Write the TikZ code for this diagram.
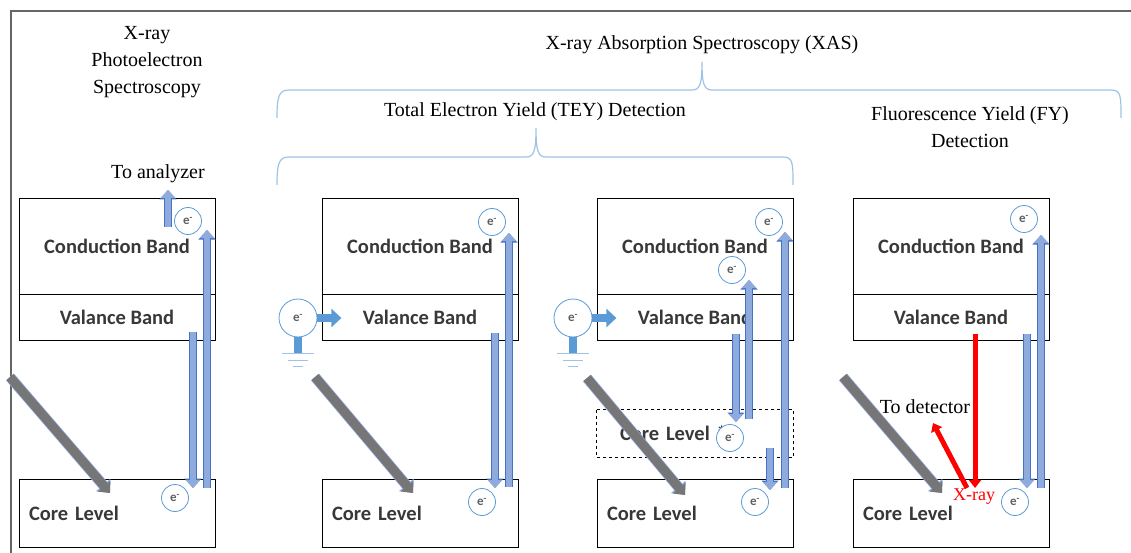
\documentclass[tikz,border=0pt]{standalone}
\usepackage{fontspec}
\setmainfont{Liberation Serif}
\newfontfamily\calib{Carlito}
\usetikzlibrary{arrows.meta, calc}

\definecolor{efill}{RGB}{143,170,220}
\definecolor{eedge}{RGB}{68,114,196}
\definecolor{gblue}{RGB}{91,155,213}
\definecolor{bline}{RGB}{157,195,230}
\definecolor{beamgray}{RGB}{118,118,118}
\definecolor{tgray}{RGB}{56,56,56}

\begin{document}
\begin{tikzpicture}[x=1pt, y=-1pt,
  every node/.style={font=\fontsize{20}{27}\selectfont},
  band/.style={draw, line width=0.8pt, minimum width=196pt, inner sep=0pt,
    font=\calib\bfseries\fontsize{20.5}{22}\selectfont, text=tgray},
  cband/.style={band, minimum height=96pt},
  vband/.style={band, minimum height=46pt},
  coreband/.style={band, minimum height=68pt, text width=176pt, align=left, inner xsep=10pt},
  elec/.style={circle, draw=gblue, fill=white, line width=0.8pt, minimum size=27pt, inner sep=0pt,
    font=\calib\bfseries\fontsize{13}{13}\selectfont, text=tgray!80},
  egnd/.style={elec, minimum size=38pt},
  barrow/.style={draw=efill, line width=6.5pt, -{Triangle[length=8pt,width=14pt]},
    preaction={draw=eedge, line width=8pt, -{Triangle[length=9.5pt,width=16.5pt]}}},
  beam/.style={draw=beamgray, line width=9pt, -{Triangle[length=9pt,width=16pt]},
    preaction={draw=eedge!60, line width=10.5pt, -{Triangle[length=10.5pt,width=18.5pt]}}},
  garrow/.style={draw=gblue, line width=8pt, -{Triangle[length=10pt,width=18pt]}},
  rarrow/.style={draw=red, line width=5pt, -{Triangle[length=8pt,width=12pt]}},
  gline/.style={draw=bline, line width=1.2pt},
  bracel/.style={draw=bline, line width=1.2pt}
]
\useasboundingbox (0,0) rectangle (1131,553);

% Frame
\draw[gray!80!black, line width=1.5pt] (11,553) -- (11,11) -- (1131,11);

% Titles
\node[align=center] (xps) at (147,62) {X-ray\\Photoelectron\\Spectroscopy};
\node (xas) at (702,45) {X-ray Absorption Spectroscopy (XAS)};
\node (tey) at (535,112) {Total Electron Yield (TEY) Detection};
\node[align=center] (fy) at (970,127) {Fluorescence Yield (FY)\\Detection};

% Braces
\draw[bracel] (277,118) .. controls (277,96) and (279,90) .. (289,90) -- (692,90)
  .. controls (700,90) and (702,84) .. (702,62)
  .. controls (702,84) and (704,90) .. (712,90) -- (1111,90)
  .. controls (1121,90) and (1121,96) .. (1121,118);
\draw[bracel] (277,185) .. controls (277,163) and (279,157) .. (289,157) -- (526,157)
  .. controls (534,157) and (536,151) .. (536,128)
  .. controls (536,151) and (538,157) .. (546,157) -- (783,157)
  .. controls (793,157) and (793,163) .. (793,185);

% Panel 1: XPS
\node[cband] (cb1) at (117,246) {Conduction Band};
\node[vband] (vb1) at (117,317) {Valance Band};
\node[coreband] (cl1) at (117,513) {Core Level};
\node (ana) at (158,174) {To analyzer};

% Panel 2: TEY
\node[cband] (cb2) at (420,246) {Conduction Band};
\node[vband] (vb2) at (420,317) {Valance Band};
\node[coreband] (cl2) at (420,513) {Core Level};

% Panel 3: TEY, Auger
\node[cband] (cb3) at (695,246) {Conduction Band};
\node[vband] (vb3) at (695,317) {Valance Band};
\node[coreband, draw=none, minimum height=47pt, text width=150pt, inner xsep=23pt] (cs3) at (695,433.5) {Core Level *};
\draw[dashed, line width=0.8pt] (cs3.north west) rectangle (cs3.south east);
\node[coreband] (cl3) at (695,513) {Core Level};

% Panel 4: FY
\node[cband] (cb4) at (951,246) {Conduction Band};
\node[vband] (vb4) at (951,317) {Valance Band};
\node[coreband] (cl4) at (951,513) {Core Level};
\node (det) at (925,407) {To detector};
\node[text=red, font=\fontsize{18}{18}\selectfont] (xr) at (974,497) {X-ray};

% Band edges
\foreach \p in {1,2,3,4}
  \draw[line width=1.8pt] (cb\p.south west) -- (cb\p.south east);

% Incoming X-rays
\draw[beam] (10,377) -- (110,493);
\draw[beam] (315,377) -- (413,493);
\draw[beam] (587,378) -- (685,495);
\draw[beam] (843,377) -- (942,493);

% Ground electrodes
\node[egnd] (g2) at (298,318) {e\textsuperscript{-}};
\node[egnd] (g3) at (573,318) {e\textsuperscript{-}};
\foreach \g in {g2,g3} {
  \draw[garrow] (\g.east) -- ++(24,0);
  \draw[draw=gblue, line width=8pt] (\g.south) -- ++(0,16);
  \draw[gline] ($(\g.south)+(-16,16)$) -- ++(32,0);
  \draw[gline] ($(\g.south)+(-10,23)$) -- ++(20,0);
  \draw[gline] ($(\g.south)+(-5,29)$) -- ++(10,0);
}

% Transitions
\draw[barrow] (168,227) -- (168,190);
\draw[barrow] (193,332) -- (193,488);
\draw[barrow] (207,488) -- (207,230);
\draw[barrow] (495,333) -- (495,488);
\draw[barrow] (509,487) -- (509,233);
\draw[barrow] (736,334) -- (736,422);
\draw[barrow] (749,419) -- (749,280);
\draw[barrow] (770,448) -- (770,490);
\draw[barrow] (785,488) -- (785,232);
\draw[barrow] (1027,334) -- (1027,488);
\draw[barrow] (1041,488) -- (1041,235);
\draw[rarrow] (975,334) -- (975,488);
\draw[rarrow] (967,488) -- (933,423);

% Electrons
\node[elec] (e1t) at (188,221) {e\textsuperscript{-}};
\node[elec] (e1b) at (175,498) {e\textsuperscript{-}};
\node[elec] (e2t) at (492,222) {e\textsuperscript{-}};
\node[elec] (e2b) at (482,502) {e\textsuperscript{-}};
\node[elec] (e3t) at (769,222) {e\textsuperscript{-}};
\node[elec] (e3m) at (732,270) {e\textsuperscript{-}};
\node[elec] (e3s) at (730,438) {e\textsuperscript{-}};
\node[elec] (e3b) at (755,502) {e\textsuperscript{-}};
\node[elec] (e4t) at (1024,219) {e\textsuperscript{-}};
\node[elec] (e4b) at (1015,502) {e\textsuperscript{-}};
\end{tikzpicture}
\end{document}
